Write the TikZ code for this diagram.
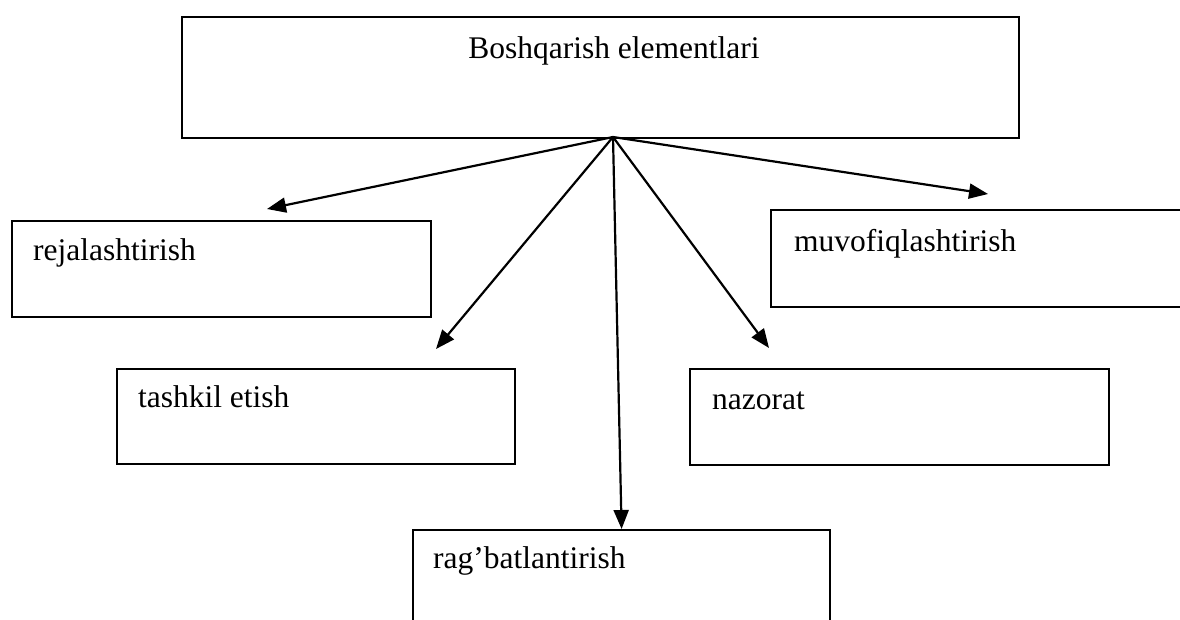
\documentclass[tikz,border=0pt]{standalone}
\usepackage{fontspec}
\setmainfont{Liberation Serif}
\usetikzlibrary{arrows.meta,positioning}

\begin{document}
\begin{tikzpicture}[x=1pt,y=-1pt,line width=2.2pt,
 blok/.style={draw,rectangle,anchor=north west,inner sep=0pt},
 yozuv/.style={anchor=base west,inner sep=0pt,font=\fontsize{31.5}{38}\selectfont},
 strelka/.style={-{Triangle[length=19pt,width=15pt]},line width=2.2pt}]

\useasboundingbox (0,0) rectangle (1180,619);
\clip (0,0) rectangle (1180,619);

\node[blok,minimum width=837pt,minimum height=121pt] (bosh) at (181,16) {};
\node[yozuv,anchor=base] (boshT) at (614,58) {Boshqarish elementlari};

\node[blok,minimum width=419pt,minimum height=96pt] (rej) at (11,220) {};
\node[yozuv] (rejT) at (32,260) {rejalashtirish};

\node[blok,minimum width=440pt,minimum height=97pt] (muv) at (770,209) {};
\node[yozuv] (muvT) at (793,251) {muvofiqlashtirish};

\node[blok,minimum width=398pt,minimum height=95pt] (tash) at (116,368) {};
\node[yozuv] (tashT) at (137,407) {tashkil etish};

\node[blok,minimum width=419pt,minimum height=96pt] (naz) at (689,368) {};
\node[yozuv] (nazT) at (711,409) {nazorat};

\node[blok,minimum width=417pt,minimum height=120pt] (rag) at (412,529) {};
\node[yozuv] (ragT) at (432,568) {rag’batlantirish};

\coordinate (hub) at (613,137);
\coordinate (pRej) at (267,209);
\coordinate (pTash) at (436,349);
\coordinate (pNaz) at (769,348);
\coordinate (pMuv) at (988,194);

\draw[strelka] (hub) -- (pRej);
\draw[strelka] (hub) -- (pTash);
\draw[strelka] (hub) -- (rag.north);
\draw[strelka] (hub) -- (pNaz);
\draw[strelka] (hub) -- (pMuv);

\end{tikzpicture}
\end{document}
